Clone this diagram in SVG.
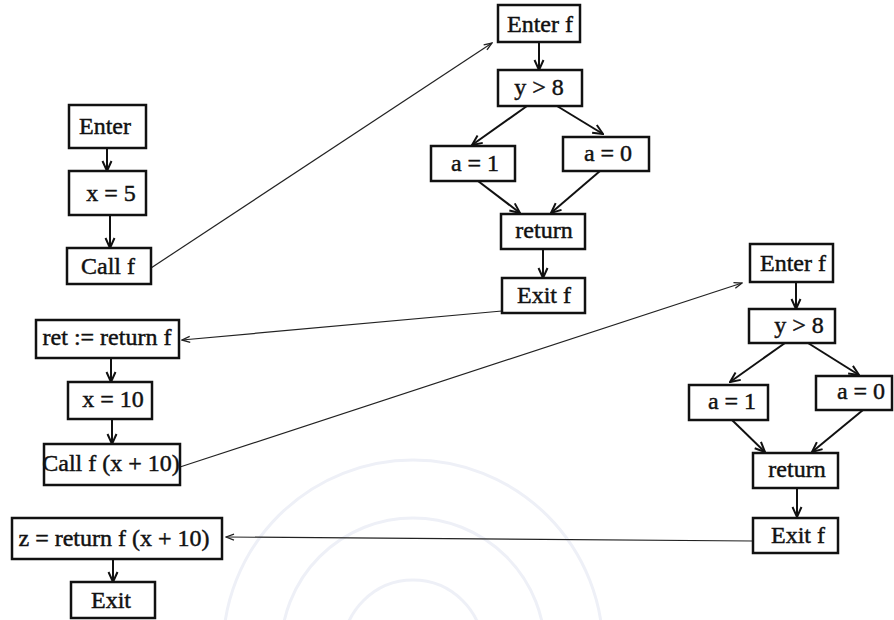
<svg xmlns="http://www.w3.org/2000/svg" width="894" height="620" viewBox="0 0 894 620">
<defs>
<style>
.box{fill:#fff;stroke:#111;stroke-width:2.5}
.t{font-family:"Liberation Serif","Times New Roman",serif;font-size:24px;fill:#111;stroke:#111;stroke-width:0.45;text-anchor:middle}
.c{stroke:#111;stroke-width:2;fill:none;marker-end:url(#ah)}
.l{stroke:#222;stroke-width:1.2;fill:none;marker-end:url(#ahs)}
.wm{fill:none;stroke:#eef0f7;stroke-width:3}
</style>
<marker id="ah" markerUnits="userSpaceOnUse" markerWidth="12" markerHeight="12" viewBox="0 0 12 12" refX="11" refY="6" orient="auto">
<path d="M1,1.5 L11,6 L1,10.5" fill="none" stroke="#111" stroke-width="2"/>
</marker>
<marker id="ahs" markerUnits="userSpaceOnUse" markerWidth="10" markerHeight="10" viewBox="0 0 10 10" refX="9" refY="5" orient="auto">
<path d="M1,2 L9,5 L1,8" fill="none" stroke="#222" stroke-width="1.3"/>
</marker>
</defs>
<rect width="894" height="620" fill="#fff"/>
<g id="watermark">
<circle class="wm" cx="413" cy="650" r="190"/>
<circle class="wm" cx="413" cy="650" r="132"/>
<circle class="wm" cx="413" cy="650" r="70"/>
</g>
<g id="connectors">
<line class="c" x1="107" y1="148" x2="107" y2="171"/>
<line class="c" x1="110" y1="215" x2="110" y2="248"/>
<line class="c" x1="111" y1="358" x2="111" y2="382"/>
<line class="c" x1="112" y1="419" x2="112" y2="444"/>
<line class="c" x1="113" y1="559" x2="113" y2="582"/>
<line class="c" x1="539" y1="42" x2="539" y2="70"/>
<line class="c" x1="527" y1="106" x2="472" y2="145"/>
<line class="c" x1="557" y1="106" x2="603" y2="134"/>
<line class="c" x1="478" y1="181" x2="520" y2="213"/>
<line class="c" x1="600" y1="171" x2="551" y2="213"/>
<line class="c" x1="543" y1="249" x2="543" y2="278"/>
<line class="c" x1="796" y1="282" x2="796" y2="309"/>
<line class="c" x1="785" y1="343" x2="730" y2="382"/>
<line class="c" x1="808" y1="343" x2="859" y2="375"/>
<line class="c" x1="732" y1="420" x2="765" y2="452"/>
<line class="c" x1="863" y1="410" x2="812" y2="452"/>
<line class="c" x1="797" y1="488" x2="797" y2="517"/>
<line class="l" x1="151" y1="268" x2="492" y2="43"/>
<line class="l" x1="502" y1="311" x2="182" y2="340"/>
<line class="l" x1="180" y1="467" x2="742" y2="283"/>
<line class="l" x1="753" y1="541" x2="226" y2="537"/>
</g>
<g id="n_enter"><rect class="box" x="69" y="105" width="77" height="43"/><text class="t" x="105" y="134">Enter</text></g>
<g id="n_x5"><rect class="box" x="69" y="171" width="77" height="44"/><text class="t" x="111" y="201">x = 5</text></g>
<g id="n_callf"><rect class="box" x="67" y="248" width="84" height="36"/><text class="t" x="108" y="274">Call f</text></g>
<g id="n_ret"><rect class="box" x="36" y="320" width="143" height="38"/><text class="t" x="107" y="345">ret := return f</text></g>
<g id="n_x10"><rect class="box" x="68" y="382" width="84" height="37"/><text class="t" x="113" y="407">x = 10</text></g>
<g id="n_callf10"><rect class="box" x="44" y="444" width="136" height="41"/><text class="t" x="111" y="471">Call f (x + 10)</text></g>
<g id="n_z"><rect class="box" x="12" y="518" width="210" height="41"/><text class="t" x="114" y="546">z = return f (x + 10)</text></g>
<g id="n_exit"><rect class="box" x="71" y="582" width="84" height="36"/><text class="t" x="111" y="608">Exit</text></g>
<g id="f1_enter"><rect class="box" x="498" y="5" width="82" height="37"/><text class="t" x="540" y="32">Enter f</text></g>
<g id="f1_cond"><rect class="box" x="498" y="70" width="84" height="36"/><text class="t" x="539" y="95">y &gt; 8</text></g>
<g id="f1_a1"><rect class="box" x="431" y="146" width="84" height="35"/><text class="t" x="475" y="171">a = 1</text></g>
<g id="f1_a0"><rect class="box" x="563" y="137" width="86" height="34"/><text class="t" x="608" y="161">a = 0</text></g>
<g id="f1_return"><rect class="box" x="501" y="214" width="84" height="35"/><text class="t" x="544" y="238">return</text></g>
<g id="f1_exit"><rect class="box" x="502" y="278" width="83" height="35"/><text class="t" x="544" y="303">Exit f</text></g>
<g id="f2_enter"><rect class="box" x="750" y="244" width="83" height="38"/><text class="t" x="793" y="271">Enter f</text></g>
<g id="f2_cond"><rect class="box" x="749" y="309" width="86" height="34"/><text class="t" x="799" y="333">y &gt; 8</text></g>
<g id="f2_a1"><rect class="box" x="689" y="385" width="79" height="35"/><text class="t" x="732" y="409">a = 1</text></g>
<g id="f2_a0"><rect class="box" x="816" y="376" width="76" height="34"/><text class="t" x="861" y="399">a = 0</text></g>
<g id="f2_return"><rect class="box" x="753" y="453" width="85" height="35"/><text class="t" x="797" y="477">return</text></g>
<g id="f2_exit"><rect class="box" x="753" y="518" width="85" height="35"/><text class="t" x="798" y="543">Exit f</text></g>
</svg>
